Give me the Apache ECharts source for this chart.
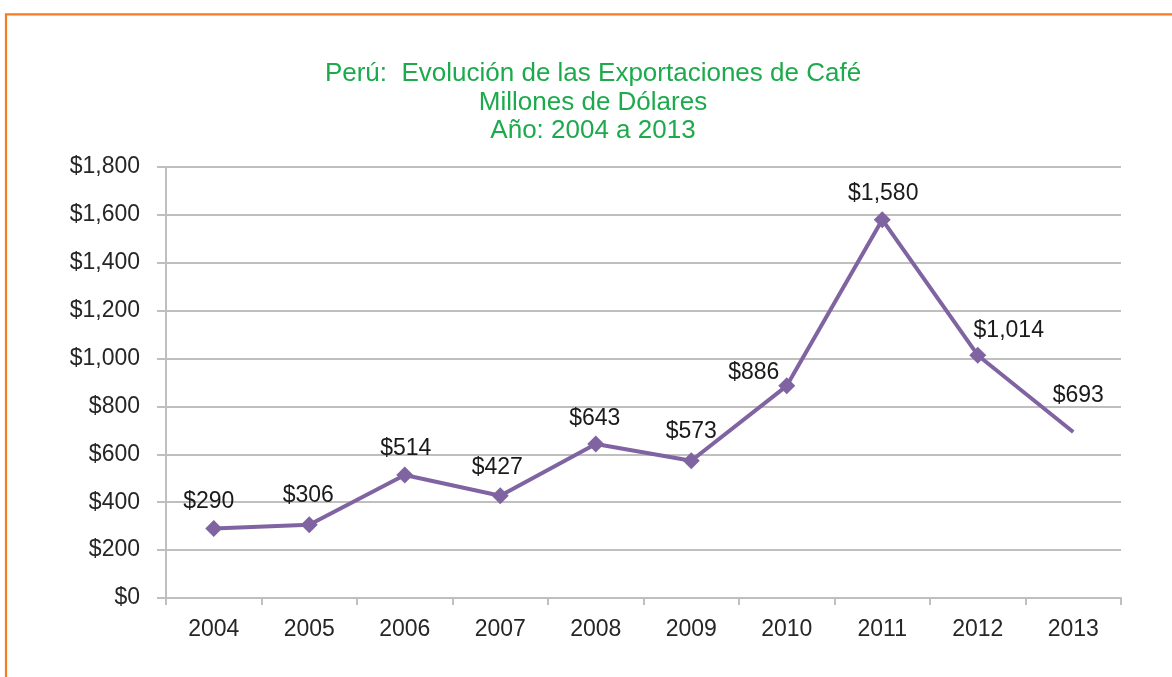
<!DOCTYPE html>
<html>
<head>
<meta charset="utf-8">
<script src="https://cdn.jsdelivr.net/npm/echarts@6/dist/echarts.min.js"></script>
<style>
html,body{margin:0;padding:0;background:#fff;}
#chart{width:1172px;height:677px;}
</style>
</head>
<body>
<div id="chart"></div>
<script>
var categories = ['2004','2005','2006','2007','2008','2009','2010','2011','2012','2013'];
var values = [290, 306, 514, 427, 643, 573, 886, 1580, 1014, 693];
var yTicks = [0, 200, 400, 600, 800, 1000, 1200, 1400, 1600, 1800];
var titleLines = ['Perú:  Evolución de las Exportaciones de Café', 'Millones de Dólares', 'Año: 2004 a 2013'];

var FONT = '"Liberation Sans", Arial, sans-serif';
var labelOffsets = [[-5,-27],[-1,-29],[1,-26],[-3,-28],[-1,-25],[0,-29],[-33,-13],[1,-26],[31,-25],[5,-36]];

var seriesData = values.map(function(v, i){
  var item = {
    value: v,
    label: {show: true, position: 'inside', offset: labelOffsets[i]}
  };
  if (i === values.length - 1) { item.symbolSize = 0; }
  return item;
});

function money(v){
  return '$' + v.toString().replace(/\B(?=(\d{3})+(?!\d))/g, ',');
}

var chart = echarts.init(document.getElementById('chart'));
chart.setOption({
  animation: false,
  backgroundColor: '#ffffff',
  graphic: [{
    type: 'rect',
    shape: {x: 6, y: 14.3, width: 1300, height: 800},
    style: {fill: 'none', stroke: '#F67B22', lineWidth: 2.2},
    silent: true, z: -1
  }],
  title: {
    text: titleLines.join('\n'),
    left: 588, top: 55,
    textAlign: 'center',
    textStyle: {
      color: '#1DAA4C', fontFamily: FONT, fontSize: 26, fontWeight: 'normal', lineHeight: 28.5
    }
  },
  grid: {left: 166, right: 51, top: 167, bottom: 79, containLabel: false},
  xAxis: {
    type: 'category',
    data: categories,
    boundaryGap: true,
    axisLine: {show: true, lineStyle: {color: '#BFBFBF', width: 2}},
    axisTick: {show: true, length: 7, lineStyle: {color: '#BFBFBF', width: 2}},
    axisLabel: {color: '#262626', fontFamily: FONT, fontSize: 23, margin: 20},
    splitLine: {show: false}
  },
  yAxis: {
    type: 'value',
    min: 0, max: 1800, interval: 200,
    axisLine: {show: true, lineStyle: {color: '#BFBFBF', width: 2}},
    axisTick: {show: true, inside: false, length: 9, lineStyle: {color: '#BFBFBF', width: 2}},
    axisLabel: {color: '#262626', fontFamily: FONT, fontSize: 23, margin: 26,
      formatter: function(v){ return money(v); }},
    splitLine: {show: true, lineStyle: {color: '#BFBFBF', width: 2}}
  },
  series: [{
    type: 'line',
    data: seriesData,
    symbol: 'diamond',
    symbolSize: 17,
    lineStyle: {color: '#8064A2', width: 4},
    itemStyle: {color: '#8064A2'},
    label: {color: '#1A1A1A', fontFamily: FONT, fontSize: 23,
      formatter: function(p){ return money(p.value); }},
    z: 3
  }]
});
</script>
</body>
</html>
